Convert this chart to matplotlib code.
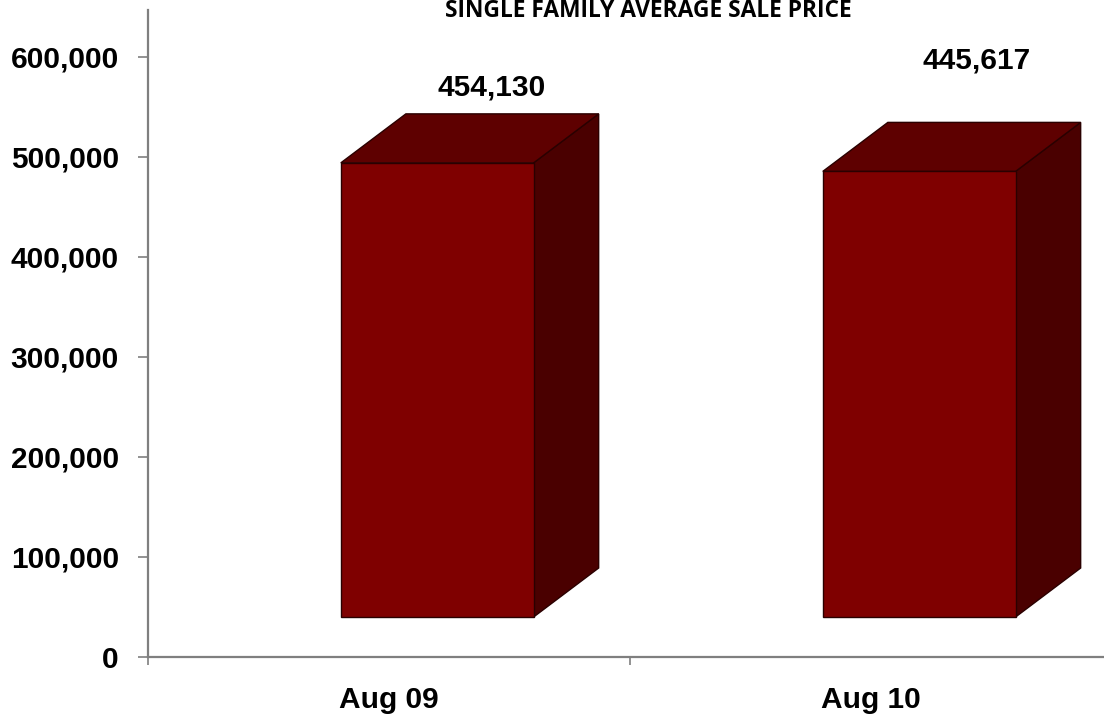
"""Single family average sale price, Aug 09 vs Aug 10 (3D bar look)"""
import matplotlib
matplotlib.use('Agg')
import matplotlib.pyplot as plt
from matplotlib.patches import Polygon
from matplotlib.ticker import FuncFormatter

# data
categories = ['Aug 09', 'Aug 10']
avg_price = [454130, 445617]
value_labels = ['454,130', '445,617']

TITLE = 'SINGLE FAMILY AVERAGE SALE PRICE'

# styling for the fake 3D boxes
FRONT = '#7f0000'
TOP = '#5e0000'
SIDE = '#4a0000'
EDGE = '#2a0000'
BAR_LEFT = 0.40      # front face start inside each category slot
BAR_W = 0.40
DEPTH_X = 0.135
DEPTH_Y = 49000
FLOOR = 40000        # the boxes sit on a raised floor
LABEL_DX = [0.712, 0.720]
LABEL_DY = [75000, 111000]
FS = 21.5

fig = plt.figure(figsize=(11.04, 7.22), dpi=100)
ax = fig.add_axes([148 / 1104, 65 / 722, 964 / 1104, 647 / 722])
ax.set_xlim(0, 2)
ax.set_ylim(0, 647000)

for i, val in enumerate(avg_price):
    x0 = i + BAR_LEFT
    x1 = x0 + BAR_W
    y0 = FLOOR
    y1 = FLOOR + val
    front = [(x0, y0), (x1, y0), (x1, y1), (x0, y1)]
    top = [(x0, y1), (x1, y1), (x1 + DEPTH_X, y1 + DEPTH_Y), (x0 + DEPTH_X, y1 + DEPTH_Y)]
    side = [(x1, y0), (x1 + DEPTH_X, y0 + DEPTH_Y), (x1 + DEPTH_X, y1 + DEPTH_Y), (x1, y1)]
    for pts, col in [(side, SIDE), (top, TOP), (front, FRONT)]:
        ax.add_patch(Polygon(pts, closed=True, facecolor=col, edgecolor=EDGE,
                             linewidth=1.0, zorder=3, clip_on=False))
    ax.text(i + LABEL_DX[i], y1 + LABEL_DY[i], value_labels[i], ha='center', va='center',
            fontsize=FS, fontweight='bold', family='Liberation Sans', color='black')

# axes look
for s in ['top', 'right']:
    ax.spines[s].set_visible(False)
for s in ['left', 'bottom']:
    ax.spines[s].set_color('#7f7f7f')
    ax.spines[s].set_linewidth(1.6)

ax.set_yticks(range(0, 600001, 100000))
ax.yaxis.set_major_formatter(FuncFormatter(lambda v, p: f'{int(v):,}'))
ax.tick_params(axis='y', direction='out', length=7, width=1.2, color='#7f7f7f', pad=14,
               labelsize=FS)

ax.set_xticks([0, 1, 2])
ax.set_xticklabels(['', '', ''])
ax.set_xticks([0.5, 1.5], minor=True)
ax.set_xticklabels(categories, minor=True)
ax.tick_params(axis='x', which='major', direction='out', length=6, width=1.2, color='#7f7f7f')
ax.tick_params(axis='x', which='minor', length=0, pad=21, labelsize=FS)

for lbl in ax.get_yticklabels() + ax.get_xticklabels(minor=True):
    lbl.set_fontweight('bold')
    lbl.set_family('Liberation Sans')

fig.text(648 / 1104, 1 - 11 / 722, TITLE, ha='center', va='center', fontsize=16.4,
         fontweight='bold', family='Open Sans')

plt.savefig('out.png', dpi=100)
plt.close()
